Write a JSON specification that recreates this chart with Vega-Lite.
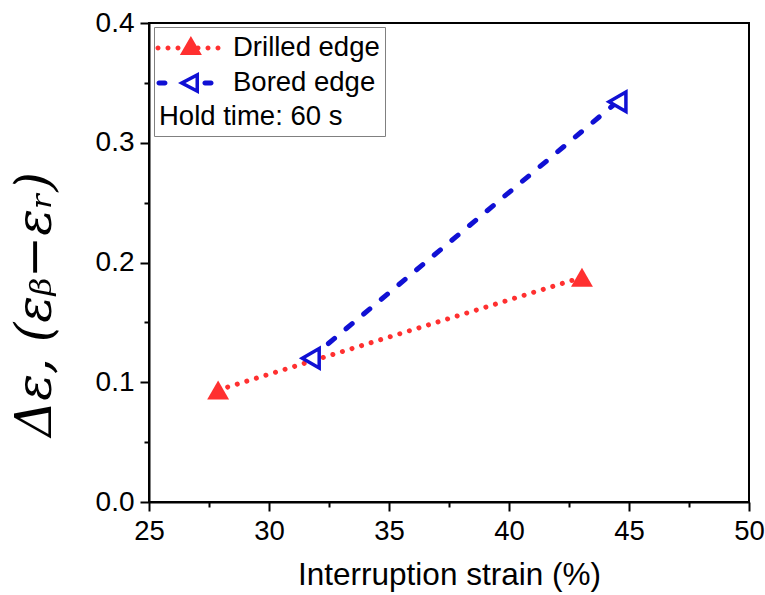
{
  "$schema": "https://vega.github.io/schema/vega-lite/v6.json",
  "width": 600,
  "height": 479,
  "autosize": "none",
  "padding": {"left": 149, "top": 23, "right": 16, "bottom": 93},
  "background": "white",
  "config": {
    "view": {"stroke": "black", "strokeWidth": 2},
    "axis": {
      "labelFont": "Liberation Sans",
      "titleFont": "Liberation Sans",
      "labelColor": "black",
      "titleColor": "black",
      "domainColor": "black",
      "domainWidth": 2,
      "tickColor": "black",
      "tickWidth": 2,
      "grid": false
    },
    "legend": {
      "orient": "none", "legendX": 5, "legendY": 4,
      "titleOrient": "bottom", "titleAnchor": "start",
      "titleFont": "Liberation Sans", "titleFontSize": 27.5, "titleFontWeight": "normal", "titleColor": "black",
      "titlePadding": 6, "titleLimit": 500, "labelLimit": 500,
      "labelFont": "Liberation Sans", "labelFontSize": 27.5, "labelColor": "black", "labelOffset": 42,
      "strokeColor": "#808080", "fillColor": "white", "padding": 5, "rowPadding": 5,
      "symbolSize": 1024, "symbolStrokeWidth": 0, "symbolOpacity": 1
    }
  },
  "data": {
    "values": [
      {"series": "Drilled edge", "strain": 27.88, "delta": 0.0935},
      {"series": "Drilled edge", "strain": 43.04, "delta": 0.1876},
      {"series": "Bored edge", "strain": 31.74, "delta": 0.120},
      {"series": "Bored edge", "strain": 44.52, "delta": 0.3343}
    ]
  },
  "resolve": {
    "scale": {"x": "shared", "y": "shared"},
    "axis": {"x": "independent", "y": "independent"}
  },
  "layer": [
    {
      "transform": [{"filter": "datum.series === 'Drilled edge'"}],
      "mark": {"type": "line", "color": "#ff3030", "strokeWidth": 5, "strokeCap": "round", "strokeDash": [0.01, 10]},
      "encoding": {
        "x": {
          "field": "strain", "type": "quantitative",
          "scale": {"domain": [25, 50], "nice": false, "zero": false},
          "axis": {
            "orient": "bottom", "values": [25, 30, 35, 40, 45, 50],
            "title": "Interruption strain (%)", "titleFontSize": 31.5, "titleFontWeight": "normal",
            "titlePadding": 15, "labelFontSize": 27.5, "labelPadding": 6, "tickSize": 9,
            "labelFlush": false
          }
        },
        "y": {
          "field": "delta", "type": "quantitative",
          "scale": {"domain": [0, 0.4], "nice": false, "zero": false},
          "axis": {
            "orient": "left", "values": [0, 0.1, 0.2, 0.3, 0.4], "format": ".1f",
            "title": "Δε, (εᵦ−εᵣ)", "titleFont": "DejaVu Serif", "titleFontStyle": "italic",
            "titleFontSize": 50, "titleFontWeight": "normal", "titlePadding": 35, "titleY": 281,
            "labelFontSize": 28, "labelPadding": 6, "tickSize": 9, "labelFlush": false
          }
        }
      }
    },
    {
      "transform": [{"filter": "datum.series === 'Bored edge'"}],
      "mark": {"type": "line", "color": "#1010d4", "strokeWidth": 5, "strokeCap": "round", "strokeDash": [8, 15]},
      "encoding": {
        "x": {
          "field": "strain", "type": "quantitative",
          "axis": {
            "orient": "bottom", "values": [27.5, 32.5, 37.5, 42.5, 47.5],
            "labels": false, "domain": false, "title": null, "tickSize": 5
          }
        },
        "y": {
          "field": "delta", "type": "quantitative",
          "axis": {
            "orient": "left", "values": [0.05, 0.15, 0.25, 0.35],
            "labels": false, "domain": false, "title": null, "tickSize": 5
          }
        }
      }
    },
    {
      "transform": [{"filter": "datum.series === 'Drilled edge'"}],
      "mark": {"type": "point", "shape": "triangle-up", "filled": true, "color": "#ff3030", "opacity": 1, "size": 480},
      "encoding": {
        "x": {"field": "strain", "type": "quantitative", "axis": null},
        "y": {"field": "delta", "type": "quantitative", "axis": null}
      }
    },
    {
      "transform": [{"filter": "datum.series === 'Bored edge'"}],
      "mark": {"type": "point", "shape": "triangle-left", "filled": false, "fill": "white", "stroke": "#1010d4", "strokeWidth": 3.5, "opacity": 1, "size": 380},
      "encoding": {
        "x": {"field": "strain", "type": "quantitative", "axis": null},
        "y": {"field": "delta", "type": "quantitative", "axis": null}
      }
    },
    {
      "transform": [{"filter": "false"}],
      "mark": {"type": "point", "filled": true, "opacity": 1, "size": 1024},
      "encoding": {
        "x": {"field": "strain", "type": "quantitative", "axis": null},
        "y": {"field": "delta", "type": "quantitative", "axis": null},
        "color": {
          "field": "series", "type": "nominal",
          "scale": {"domain": ["Drilled edge", "Bored edge"], "range": ["#ff3030", "#1010d4"]},
          "legend": {"title": "Hold time: 60 s"}
        },
        "shape": {
          "field": "series", "type": "nominal",
          "scale": {
            "domain": ["Drilled edge", "Bored edge"],
            "range": [
              "M-1.2185,0a0.156,0.156 0 1,0 0.312,0a0.156,0.156 0 1,0 -0.312,0M-0.5935,0a0.156,0.156 0 1,0 0.312,0a0.156,0.156 0 1,0 -0.312,0M0.0315,0a0.156,0.156 0 1,0 0.312,0a0.156,0.156 0 1,0 -0.312,0M1.2815,0a0.156,0.156 0 1,0 0.312,0a0.156,0.156 0 1,0 -0.312,0M1.9065,0a0.156,0.156 0 1,0 0.312,0a0.156,0.156 0 1,0 -0.312,0M2.5315,0a0.156,0.156 0 1,0 0.312,0a0.156,0.156 0 1,0 -0.312,0M0.9925,-0.75L0.3045,0.44L1.6805,0.44Z",
              "M-0.9995,-0.156H-0.6275A0.156,0.156 0 0 1 -0.6275,0.156H-0.9995A0.156,0.156 0 0 1 -0.9995,-0.156ZM1.8725,-0.156H2.2525A0.156,0.156 0 0 1 2.2525,0.156H1.8725A0.156,0.156 0 0 1 1.8725,-0.156ZM0.1875,0L1.5005,-0.688L1.5005,0.688ZM0.6585,0L1.2805,0.326L1.2805,-0.326Z"
            ]
          },
          "legend": {"title": "Hold time: 60 s"}
        }
      }
    }
  ]
}
